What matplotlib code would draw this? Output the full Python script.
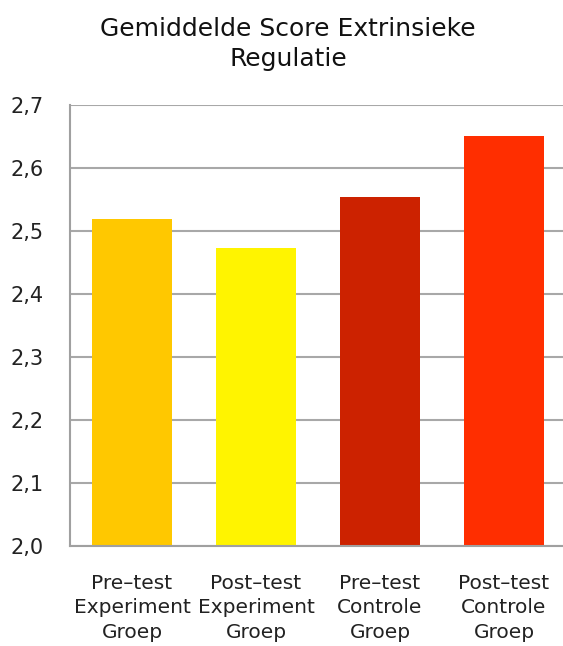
import matplotlib
matplotlib.use("Agg")
import matplotlib.pyplot as plt
from matplotlib.ticker import FuncFormatter

categories = ["Pre-test\nExperiment\nGroep", "Post-test\nExperiment\nGroep",
              "Pre-test\nControle\nGroep", "Post-test\nControle\nGroep"]
values = [2.519, 2.473, 2.554, 2.651]
colors = ["#FFC800", "#FFF400", "#CC2200", "#FF2E00"]
yticks = [2.0, 2.1, 2.2, 2.3, 2.4, 2.5, 2.6, 2.7]

plt.rcParams['font.family'] = ['DejaVu Sans']
fig = plt.figure(figsize=(5.63, 6.46), dpi=100)
ax = fig.add_axes([70/563, 1-546/646, (566-70)/563, (546-105)/646])
ax.set_axisbelow(True)
ax.bar(range(len(values)), values, width=0.645, color=colors, zorder=2)
ax.set_xlim(-0.5, 3.5)
ax.set_ylim(2.0, 2.7)
ax.set_yticks(yticks)
ax.yaxis.set_major_formatter(FuncFormatter(lambda v, p: f"{v:.1f}".replace(".", ",")))
ax.yaxis.grid(True, color="#a8a8a8", linewidth=1.5)
ax.set_xticks(range(len(values)))
ax.set_xticklabels([c.replace("-", "\u2013") for c in categories], fontsize=14.5, linespacing=1.36)
ax.tick_params(axis='y', labelsize=15, length=0, pad=19, colors="#222222")
ax.tick_params(axis='x', length=0, pad=20, colors="#222222")
for s in ["top", "right"]:
    ax.spines[s].set_visible(False)
for s in ["left", "bottom"]:
    ax.spines[s].set_color("#a0a0a0")
    ax.spines[s].set_linewidth(1.5)
fig.text(288/563, 1-44/646, "Gemiddelde Score Extrinsieke\nRegulatie", ha="center", va="center",
         fontsize=18, linespacing=1.27, color="#111111")
fig.savefig("out.png", dpi=100)
